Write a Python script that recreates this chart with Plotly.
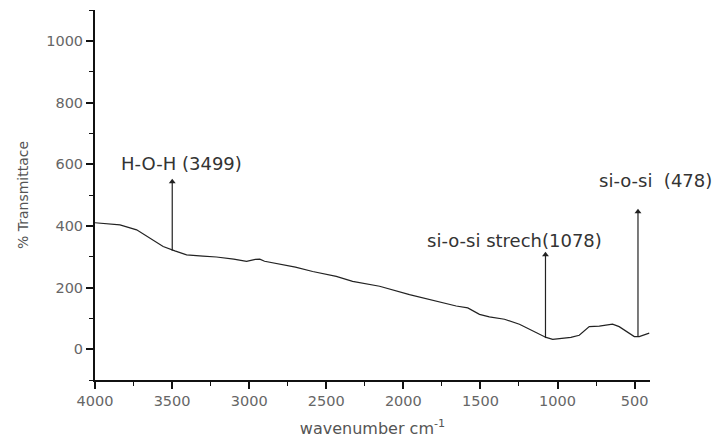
import plotly.graph_objects as go

# FTIR spectrum
wavenumber = [4000, 3920, 3838, 3730, 3644, 3558, 3482, 3406, 3300, 3212, 3100,
              3017, 2960, 2931, 2900, 2847, 2700, 2588, 2435, 2329, 2154, 1960,
              1800, 1657, 1582, 1506, 1442, 1344, 1247, 1150, 1074, 1031, 988,
              913, 859, 794, 729, 643, 600, 556, 502, 470, 449, 405]
transmittance = [410, 406, 403, 387, 360, 333, 319, 306, 302, 299, 292,
                 285, 291, 292, 285, 280, 266, 252, 236, 220, 204, 177,
                 158, 140, 134, 113, 105, 97, 81, 58, 38, 32, 34,
                 38, 45, 73, 75, 81, 73, 59, 41, 41, 45, 52]

# Band assignments: label, position, arrow base, arrow tip, label anchor
peak_labels = ["H-O-H (3499)", "si-o-si strech(1078)", "si-o-si  (478)"]
peak_pos = [3499, 1078, 478]
arrow_base = [319, 36, 41]
arrow_tip = [543, 306, 446]
label_x = [3440, 1280, 742]
label_y = [602, 352, 548]
label_anchor = ["center", "center", "left"]

x_ticks = [4000, 3500, 3000, 2500, 2000, 1500, 1000, 500]
y_ticks = [0, 200, 400, 600, 800, 1000]

FONT = "DejaVu Sans"

fig = go.Figure()
fig.add_trace(go.Scatter(x=wavenumber, y=transmittance, mode="lines",
                         line=dict(color="#222", width=1.2),
                         showlegend=False, hoverinfo="skip"))

# arrow shafts
for px, yb, yt in zip(peak_pos, arrow_base, arrow_tip):
    fig.add_trace(go.Scatter(x=[px, px], y=[yb, yt], mode="lines",
                             line=dict(color="#222", width=1.2),
                             showlegend=False, hoverinfo="skip"))
# arrow heads
fig.add_trace(go.Scatter(x=peak_pos, y=arrow_tip, mode="markers",
                         marker=dict(symbol="triangle-up", size=6,
                                     color="#222"),
                         showlegend=False, hoverinfo="skip"))

for lab, lx, ly, anc in zip(peak_labels, label_x, label_y, label_anchor):
    fig.add_annotation(x=lx, y=ly, xref="x", yref="y", text=lab,
                       showarrow=False, xanchor=anc, yanchor="middle",
                       font=dict(family=FONT, size=18, color="#333"))

axis_font = dict(family=FONT, size=14.5, color="#666")
fig.update_xaxes(range=[4000, 400], tickvals=x_ticks, showgrid=False,
                 zeroline=False, showline=True, linewidth=2, linecolor="#111",
                 ticks="outside", ticklen=7, tickwidth=1.5, tickcolor="#111",
                 tickfont=axis_font,
                 title=dict(text="wavenumber cm<sup>-1</sup>", standoff=14,
                            font=dict(family=FONT, size=16, color="#555")),
                 minor=dict(dtick=250, tick0=4000, ticks="outside", ticklen=4,
                            tickwidth=1.2, tickcolor="#111", showgrid=False))
fig.update_yaxes(range=[-100, 1100], tickvals=y_ticks, showgrid=False,
                 zeroline=False, showline=True, linewidth=2, linecolor="#111",
                 ticks="outside", ticklen=7, tickwidth=1.5, tickcolor="#111",
                 tickfont=axis_font,
                 title=dict(text="% Transmittace", standoff=14,
                            font=dict(family=FONT, size=14, color="#555")),
                 minor=dict(dtick=100, tick0=0, ticks="outside", ticklen=4,
                            tickwidth=1.2, tickcolor="#111", showgrid=False))

fig.update_layout(width=726, height=443,
                  margin=dict(l=95, r=76, t=10, b=63, autoexpand=False),
                  plot_bgcolor="white", paper_bgcolor="white")

fig.write_html("out.html")
